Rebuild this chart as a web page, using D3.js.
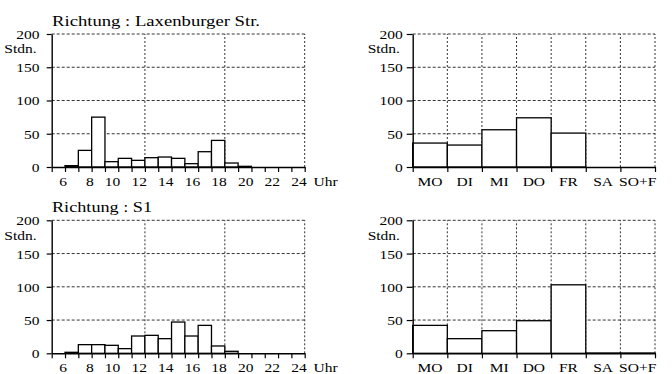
<!DOCTYPE html>
<html><head><meta charset="utf-8">
<script src="https://cdn.jsdelivr.net/npm/d3@7"></script>
<style>
body{margin:0;background:#fff}
</style>
</head><body>
<svg id="c" width="672" height="374" font-family="'Liberation Serif', Tinos, 'Times New Roman', Times, serif"></svg>
<script>
// ---- data ----
const hourStarts = [6,7,8,9,10,11,12,13,14,15,16,17,18,19,20,21,22,23];
const laxHours   = [2,25,75,8,13,10,14,15,13,5,23,40,6,1,0,0,0,0];
const s1Hours    = [1.5,13,13,12,7,26,27,22,47,26,42,11,3,0,0,0,0,0];
const days       = ["MO","DI","MI","DO","FR","SA","SO+F"];
const laxDays    = [36,33,56,74,51,0,0];
const s1Days     = [42,22,34,49,103,0.5,0.5];
const yTicks     = [0,50,100,150,200];
const hourTicks  = [5,6,7,8,9,10,11,12,13,14,15,16,17,18,19,20,21,22,23,24];
const hourGrid   = [12,18,24];
const titles     = ["Richtung : Laxenburger Str.","Richtung : S1"];
const yUnit      = "Stdn.";
const xUnit      = "Uhr";

const FONT = "'Liberation Serif', Tinos, 'Times New Roman', Times, serif";
const svg = d3.select("#c");
const SX = 1.15; // horizontal text stretch
const FS = 13.5;

function stretch(sel){
  sel.each(function(){
    const t=d3.select(this);
    const x=+t.attr("x")||0;
    t.attr("x", x/SX).attr("transform", `scale(${SX},1)`).attr("font-family",FONT).attr("fill","#000");
  });
}

const rows = [
  {hours:laxHours, days:laxDays, title:titles[0], dy:0},
  {hours:s1Hours,  days:s1Days,  title:titles[1], dy:186.3}
];

rows.forEach(r=>{
  const y = d3.scaleLinear().domain([0,200]).range([167+r.dy, 34+r.dy]);

  // ---------- left panel: hours ----------
  const x = d3.scaleLinear().domain([5,24]).range([51.7,304.7]);
  const gL = svg.append("g");
  gL.selectAll(".hg").data(yTicks.slice(1)).join("line")
    .attr("x1",x(5)).attr("x2",x(24)).attr("y1",d=>y(d)).attr("y2",d=>y(d))
    .attr("stroke","#333").attr("stroke-width",1).attr("stroke-dasharray","3,2");
  gL.selectAll(".vg").data(hourGrid).join("line")
    .attr("x1",d=>x(d)).attr("x2",d=>x(d)).attr("y1",y(0)).attr("y2",y(200))
    .attr("stroke","#333").attr("stroke-width",1).attr("stroke-dasharray","2,2");
  gL.selectAll(".bar").data(hourStarts.map((h,i)=>({h,v:r.hours[i]}))).join("rect")
    .attr("x",d=>x(d.h)).attr("width",d=>x(d.h+1)-x(d.h))
    .attr("y",d=>y(d.v)).attr("height",d=>y(0)-y(d.v))
    .attr("fill","#fff").attr("stroke","#000").attr("stroke-width",1.3);
  const ay = gL.append("g").attr("transform",`translate(${x(5)},0)`)
    .call(d3.axisLeft(y).tickValues(yTicks).tickSize(5).tickSizeOuter(0));
  ay.attr("font-family",FONT).attr("font-size",FS);
  ay.select(".domain").attr("stroke-width",1.4);
  ay.selectAll(".tick line").attr("stroke-width",1.2);
  ay.selectAll("text").attr("font-size",FS).attr("x",-12.2).attr("dy","0.33em");
  ay.selectAll("text").call(stretch);
  const ax = gL.append("g").attr("transform",`translate(0,${y(0)})`)
    .call(d3.axisBottom(x).tickValues(hourTicks).tickSize(5).tickSizeOuter(0)
      .tickFormat(d=>(d%2===0)?d:""));
  ax.attr("font-family",FONT).attr("font-size",FS);
  ax.select(".domain").attr("stroke-width",1.4);
  ax.selectAll(".tick line").attr("stroke-width",1.2);
  ax.selectAll("text").attr("font-size",FS).attr("y",9.5).attr("dy","0.71em")
    .attr("text-anchor","end").attr("x",1.5);
  ax.selectAll("text").call(stretch);
  gL.append("text").attr("x",313.5).attr("y",y(0)+19).attr("font-size",FS).text(xUnit).call(stretch);
  gL.append("text").attr("x",36.7).attr("y",y(200)+19.5).attr("text-anchor","end").attr("font-size",FS).text(yUnit).call(stretch);
  gL.append("text").attr("x",52).attr("y",y(200)-8.5).attr("font-size",15.5).attr("font-family",FONT)
    .attr("textLength", r.dy===0?208:100).attr("lengthAdjust","spacingAndGlyphs").text(r.title);

  // ---------- right panel: days ----------
  const xb = d3.scaleBand().domain(days).range([412.7,655]).padding(0);
  const xi = d3.scaleLinear().domain([0,days.length]).range([412.7,655]);
  const gR = svg.append("g");
  gR.selectAll(".hg").data(yTicks.slice(1)).join("line")
    .attr("x1",xi(0)).attr("x2",xi(7)).attr("y1",d=>y(d)).attr("y2",d=>y(d))
    .attr("stroke","#333").attr("stroke-width",1).attr("stroke-dasharray","3,2");
  gR.selectAll(".vg").data(d3.range(1,days.length+1)).join("line")
    .attr("x1",d=>xi(d)).attr("x2",d=>xi(d)).attr("y1",y(0)).attr("y2",y(200))
    .attr("stroke","#333").attr("stroke-width",1).attr("stroke-dasharray","2,2");
  gR.selectAll(".bar").data(days.map((d,i)=>({d,v:r.days[i]}))).join("rect")
    .attr("x",d=>xb(d.d)).attr("width",xb.bandwidth())
    .attr("y",d=>y(d.v)).attr("height",d=>y(0)-y(d.v))
    .attr("fill","#fff").attr("stroke","#000").attr("stroke-width",1.3);
  const ayR = gR.append("g").attr("transform",`translate(${xi(0)},0)`)
    .call(d3.axisLeft(y).tickValues(yTicks).tickSize(6).tickSizeOuter(0));
  ayR.attr("font-family",FONT).attr("font-size",FS);
  ayR.select(".domain").attr("stroke-width",1.4);
  ayR.selectAll(".tick line").attr("stroke-width",1.2);
  ayR.selectAll("text").attr("font-size",FS).attr("x",-10).attr("dy","0.33em");
  ayR.selectAll("text").call(stretch);
  const axT = gR.append("g").attr("transform",`translate(0,${y(0)})`)
    .call(d3.axisBottom(xi).tickValues(d3.range(0,days.length+1)).tickSize(5).tickSizeOuter(0).tickFormat(""));
  axT.select(".domain").attr("stroke-width",1.4);
  axT.selectAll(".tick line").attr("stroke-width",1.2);
  const axL = gR.append("g").attr("transform",`translate(0,${y(0)})`)
    .call(d3.axisBottom(xb).tickSize(0).tickSizeOuter(0));
  axL.attr("font-family",FONT).attr("font-size",FS);
  axL.select(".domain").remove();
  axL.selectAll("text").attr("font-size",FS).attr("y",9.5).attr("dy","0.71em");
  axL.selectAll("text").call(stretch);
  gR.append("text").attr("x",400).attr("y",y(200)+19.5).attr("text-anchor","end").attr("font-size",FS).text(yUnit).call(stretch);
});
</script>
</body></html>
